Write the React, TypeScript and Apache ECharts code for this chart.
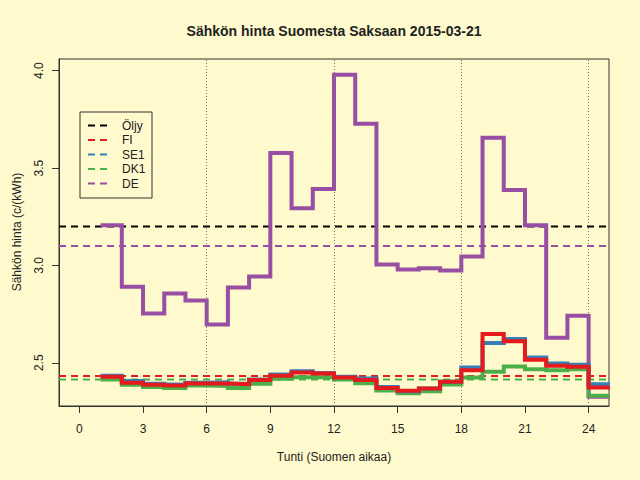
import React, { useEffect, useRef } from "react";
import * as echarts from "echarts";

const HOURS = [1, 2, 3, 4, 5, 6, 7, 8, 9, 10, 11, 12, 13, 14, 15, 16, 17, 18, 19, 20, 21, 22, 23, 24];
const DE = [3.206, 2.89, 2.753, 2.856, 2.82, 2.696, 2.887, 2.943, 3.577, 3.294, 3.392, 3.979, 3.727, 3.005, 2.979, 2.985, 2.974, 3.046, 3.655, 3.387, 3.206, 2.629, 2.742, 2.325];
const FI = [2.428, 2.397, 2.387, 2.383, 2.393, 2.393, 2.39, 2.411, 2.433, 2.45, 2.445, 2.424, 2.412, 2.371, 2.356, 2.368, 2.402, 2.462, 2.648, 2.61, 2.515, 2.485, 2.479, 2.373];
const SE1 = [2.433, 2.406, 2.392, 2.388, 2.397, 2.4, 2.392, 2.414, 2.44, 2.457, 2.448, 2.428, 2.419, 2.375, 2.354, 2.368, 2.402, 2.476, 2.602, 2.622, 2.527, 2.496, 2.49, 2.39];
const DK1 = [2.414, 2.387, 2.376, 2.371, 2.383, 2.381, 2.37, 2.392, 2.418, 2.426, 2.426, 2.414, 2.395, 2.357, 2.344, 2.354, 2.388, 2.424, 2.454, 2.481, 2.467, 2.462, 2.467, 2.33];

const LEGEND_NAMES = ["Öljy", "FI", "SE1", "DK1", "DE"];
const LEGEND_COLORS = ["#000000", "#E41A1C", "#377EB8", "#4DAF4A", "#984EA3"];
const AVERAGES = [3.2, 2.432, 2.432, 2.414, 3.1];
const AVG_DRAW_ORDER = [0, 4, 3, 2, 1];

const X_TICKS = [0, 3, 6, 9, 12, 15, 18, 21, 24];
const Y_TICKS = [2.5, 3.0, 3.5, 4.0];
const V_LINES = [6, 12, 18, 24];

const X_MIN = -0.96;
const X_MAX = 24.96;
const Y_MIN = 2.278;
const Y_MAX = 4.06;

const TITLE = "Sähkön hinta Suomesta Saksaan 2015-03-21";
const X_NAME = "Tunti (Suomen aikaa)";
const Y_NAME = "Sähkön hinta (c/(kWh)";

const FONT = "Liberation Sans, Arial, Helvetica, sans-serif";

function stepData(values: number[]) {
  const d = HOURS.map((h, i) => [h, values[i]]);
  d.push([HOURS[HOURS.length - 1] + 1, values[values.length - 1]]);
  return d;
}

export default function App() {
  const ref = useRef<HTMLDivElement>(null);
  useEffect(() => {
    if (!ref.current) return;
    const chart = echarts.init(ref.current, null, { renderer: "svg" });

    const grid = { left: 59, top: 59, width: 550, height: 347 };

    const avgSeries = AVG_DRAW_ORDER.map((i) => ({
      name: LEGEND_NAMES[i] + " avg",
      type: "line",
      data: [
        [X_MIN, AVERAGES[i]],
        [X_MAX, AVERAGES[i]],
      ],
      symbol: "none",
      silent: true,
      lineStyle: { color: LEGEND_COLORS[i], width: 2, type: [7, 5] },
      z: 2,
    }));

    const stepSeries = [
      { name: "DE", values: DE, color: LEGEND_COLORS[4] },
      { name: "DK1", values: DK1, color: LEGEND_COLORS[3] },
      { name: "SE1", values: SE1, color: LEGEND_COLORS[2] },
      { name: "FI", values: FI, color: LEGEND_COLORS[1] },
    ].map((s, i) => ({
      name: s.name,
      type: "line",
      step: "end",
      data: stepData(s.values),
      symbol: "none",
      clip: true,
      lineStyle: { color: s.color, width: 4, cap: "butt", join: "miter" },
      z: 3 + i,
    }));

    const legendX = 80;
    const legendY = 112;
    const legendGraphics: any[] = [
      {
        type: "rect",
        shape: { x: legendX, y: legendY, width: 72, height: 86 },
        style: { fill: "transparent", stroke: "#333", lineWidth: 1 },
      },
    ];
    LEGEND_NAMES.forEach((name, i) => {
      const y = legendY + 13.5 + i * 14.5;
      legendGraphics.push({
        type: "line",
        shape: { x1: legendX + 8, y1: y, x2: legendX + 30, y2: y },
        style: { stroke: LEGEND_COLORS[i], lineWidth: 2, lineDash: [7, 5] },
      });
      legendGraphics.push({
        type: "text",
        x: legendX + 42,
        y: y,
        style: {
          text: name,
          fill: "#222",
          font: `12px ${FONT}`,
          verticalAlign: "middle",
        },
      });
    });

    const option: any = {
      animation: false,
      backgroundColor: "#FFFACD",
      grid: {
        ...grid,
        show: true,
        borderColor: "#333",
        borderWidth: 1,
        backgroundColor: "transparent",
      },
      xAxis: {
        type: "value",
        min: X_MIN,
        max: X_MAX,
        axisLine: { show: true, onZero: false, lineStyle: { color: "#333" } },
        splitLine: { show: false },
        axisTick: {
          show: true,
          inside: false,
          length: 7,
          lineStyle: { color: "#333" },
          customValues: X_TICKS,
        },
        axisLabel: {
          customValues: X_TICKS,
          color: "#222",
          fontFamily: FONT,
          fontSize: 12,
          margin: 17,
          showMinLabel: true,
          showMaxLabel: true,
        },
      },
      yAxis: {
        type: "value",
        min: Y_MIN,
        max: Y_MAX,
        axisLine: { show: true, onZero: false, lineStyle: { color: "#333" } },
        splitLine: { show: false },
        axisTick: {
          show: true,
          inside: false,
          length: 7,
          lineStyle: { color: "#333" },
          customValues: Y_TICKS,
        },
        axisLabel: {
          customValues: Y_TICKS,
          rotate: 90,
          color: "#222",
          fontFamily: FONT,
          fontSize: 12,
          margin: 14,
          formatter: (v: number) => v.toFixed(1),
        },
      },
      series: [
        {
          name: "vlines",
          type: "line",
          data: [],
          symbol: "none",
          silent: true,
          z: 1,
          markLine: {
            symbol: "none",
            silent: true,
            label: { show: false },
            lineStyle: { color: "#777", width: 1, type: [1, 2] },
            data: V_LINES.map((v) => ({ xAxis: v })),
          },
        },
        ...avgSeries,
        ...stepSeries,
      ],
      graphic: [
        {
          type: "text",
          x: 334,
          y: 31,
          style: {
            text: TITLE,
            fill: "#222",
            font: `bold 14px ${FONT}`,
            align: "center",
            verticalAlign: "middle",
          },
        },
        {
          type: "text",
          x: 334,
          y: 457,
          style: {
            text: X_NAME,
            fill: "#222",
            font: `12px ${FONT}`,
            align: "center",
            verticalAlign: "middle",
          },
        },
        {
          type: "text",
          x: 17,
          y: 232,
          rotation: Math.PI / 2,
          style: {
            text: Y_NAME,
            fill: "#222",
            font: `12px ${FONT}`,
            align: "center",
            verticalAlign: "middle",
          },
        },
        ...legendGraphics,
      ],
    };
    chart.setOption(option);
    return () => chart.dispose();
  }, []);
  return (
    <div
      ref={ref}
      style={{ position: "fixed", left: 0, top: 0, width: 640, height: 480 }}
    />
  );
}
